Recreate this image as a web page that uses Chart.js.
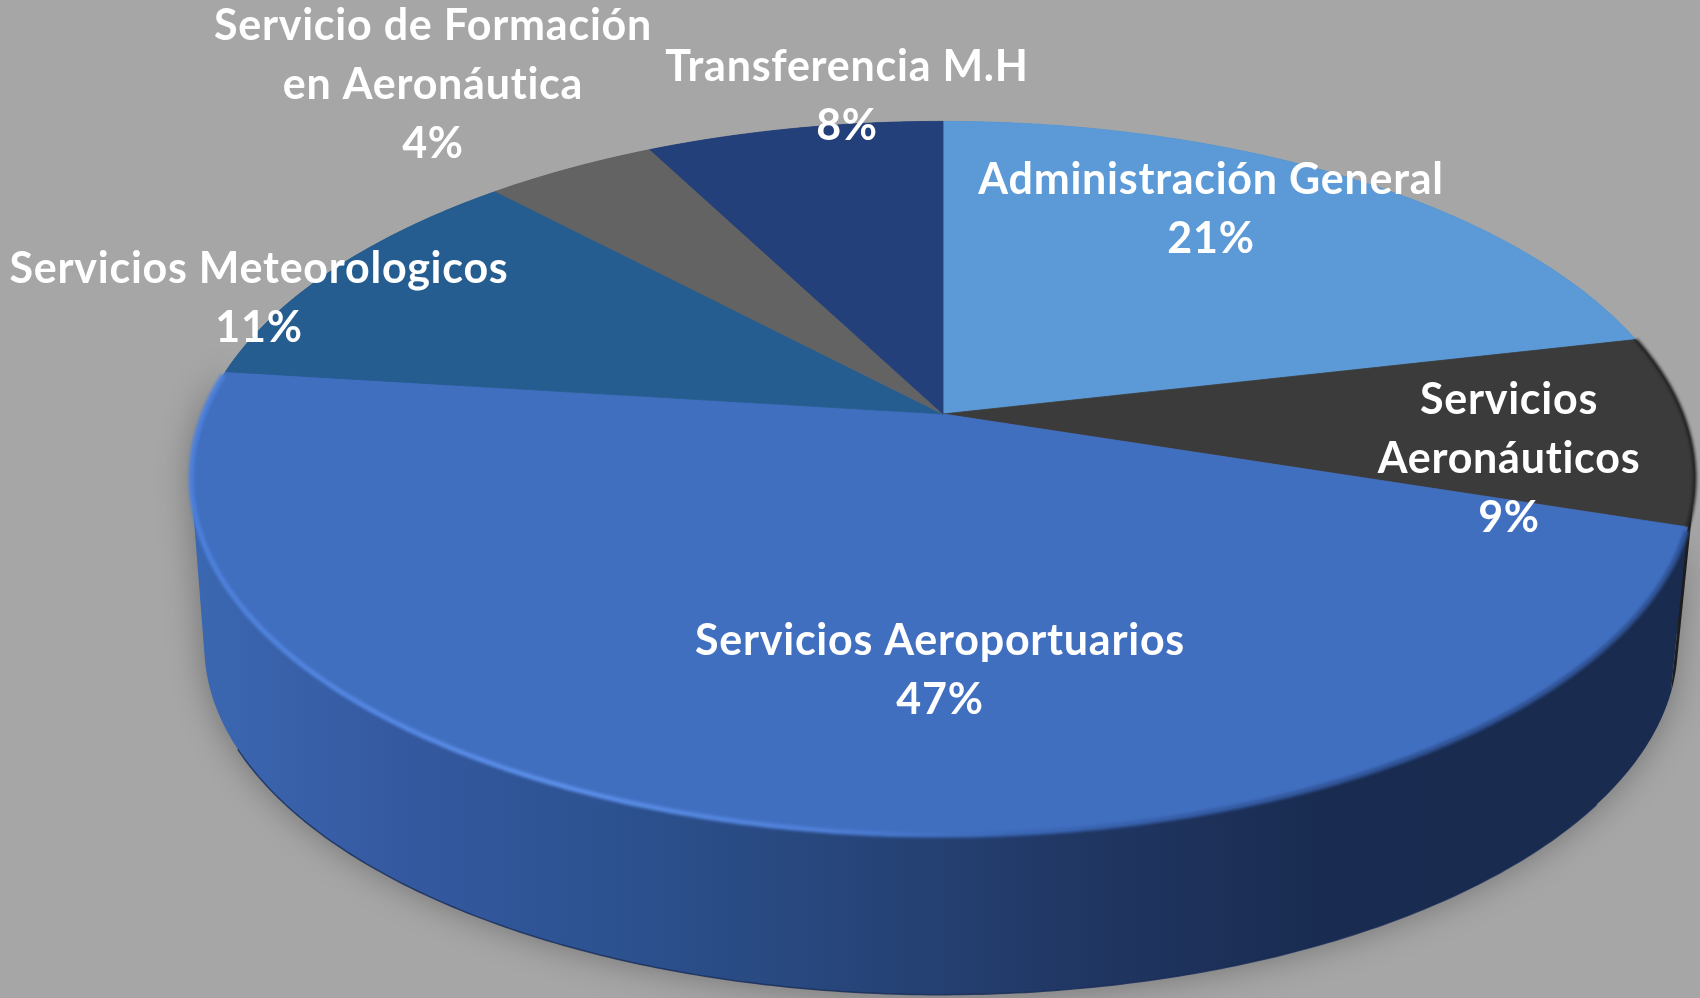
<!DOCTYPE html>
<html lang="es">
<head>
<meta charset="utf-8">
<title>Distribución por servicio</title>
<style>
html,body{margin:0;padding:0;background:#a6a6a6;overflow:hidden}
canvas{display:block}
</style>
<script src="https://cdn.jsdelivr.net/npm/chart.js@4"></script>
</head>
<body>
<canvas id="c" width="1700" height="998"></canvas>
<script>
// ---- data ----
const categories = [
  ["Administración General"],
  ["Servicios", "Aeronáuticos"],
  ["Servicios Aeroportuarios"],
  ["Servicios Meteorologicos"],
  ["Servicio de Formación", "en Aeronáutica"],
  ["Transferencia M.H"]
];
const seriesValues = [21.4, 8.6, 47.0, 11.0, 4.4, 7.6];

// ---- style ----
const faceColors = ["#5b9ad6", "#3b3b3b", "#416fc0", "#255d91", "#636363", "#23407a"];
const wallColors = ["#3f6c96", "#1d1d1d", null, "#1a4166", "#454545", "#182d55"];
const labelCenters = [[1211, 180], [1509, 400], [940, 641], [259, 269], [433, 26], [847, 67]];
const LINE_H = 59;
const FONT = 'bold 43px Lato';

// ---- perspective of the disc, expressed on the library's pie radius ----
const VIEW = {dx: 93, dy: -85, sx: 1.482, sy: 0.692, k: -0.18, depth: 168, baseScale: 0.98, baseDx: -2};

function project(arc, angle, base) {
  const s = base ? VIEW.baseScale : 1;
  const w = 1 + VIEW.k * Math.sin(angle);
  const R = arc.outerRadius;
  return {
    x: arc.x + VIEW.dx + (base ? VIEW.baseDx : 0) + s * R * VIEW.sx * Math.cos(angle) / w,
    y: arc.y + VIEW.dy + (base ? VIEW.depth : 0) + s * R * VIEW.sy * Math.sin(angle) / w
  };
}
function rim(arc, a0, a1, base) {
  const n = Math.max(2, Math.ceil((a1 - a0) / 0.01));
  const pts = [];
  for (let i = 0; i <= n; i++) pts.push(project(arc, a0 + (a1 - a0) * i / n, base));
  return pts;
}
function trace(ctx, pts, close) {
  ctx.beginPath();
  pts.forEach((p, i) => i ? ctx.lineTo(p.x, p.y) : ctx.moveTo(p.x, p.y));
  if (close) ctx.closePath();
}
// the wall is swept from the top rim to the base rim, one thin quad per step
function traceWall(ctx, arc) {
  const t = rim(arc, arc.startAngle, arc.endAngle, false);
  const b = rim(arc, arc.startAngle, arc.endAngle, true);
  ctx.beginPath();
  for (let i = 0; i < t.length - 1; i++) {
    const cross = (t[i + 1].x - t[i].x) * (b[i].y - t[i].y) - (t[i + 1].y - t[i].y) * (b[i].x - t[i].x);
    const q = cross > 0 ? [t[i], t[i + 1], b[i + 1], b[i]] : [t[i], b[i], b[i + 1], t[i + 1]];
    q.forEach((p, j) => j ? ctx.lineTo(p.x, p.y) : ctx.moveTo(p.x, p.y));
    ctx.closePath();
  }
}

const disc3d = {
  id: 'disc3d',
  beforeDatasetDraw(chart, args) {
    const ctx = chart.ctx;
    const arcs = chart.getDatasetMeta(args.index).data;
    const main = arcs[2];

    // soft ground shadow under the wall
    ctx.save();
    ctx.filter = 'blur(17px)';
    ctx.fillStyle = 'rgba(0,0,0,0.32)';
    traceWall(ctx, main);
    ctx.fill();
    ctx.restore();

    // side walls
    const wallGrad = ctx.createLinearGradient(190, 0, 1690, 0);
    wallGrad.addColorStop(0, '#3b68b2');
    wallGrad.addColorStop(0.14, '#3559a0');
    wallGrad.addColorStop(0.28, '#2c5290');
    wallGrad.addColorStop(0.44, '#27457a');
    wallGrad.addColorStop(0.6, '#203662');
    wallGrad.addColorStop(0.76, '#192b50');
    wallGrad.addColorStop(1, '#192b4e');
    arcs.forEach((arc, i) => {
      ctx.fillStyle = wallColors[i] || wallGrad;
      traceWall(ctx, arc);
      ctx.fill();
    });
    // thin dark edge along the front of the base
    ctx.strokeStyle = 'rgba(24,44,88,0.8)';
    ctx.lineWidth = 1.5;
    trace(ctx, rim(main, Math.PI * 0.2, Math.PI * 0.85, true), false);
    ctx.stroke();

    // top faces
    arcs.forEach((arc, i) => {
      const pts = [{x: arc.x + VIEW.dx, y: arc.y + VIEW.dy}]
        .concat(rim(arc, arc.startAngle, arc.endAngle, false));
      ctx.fillStyle = faceColors[i];
      ctx.strokeStyle = faceColors[i];
      ctx.lineWidth = 0.8;
      trace(ctx, pts, true);
      ctx.fill();
      ctx.stroke();
    });

    // bevel highlights
    const glow = ctx.createLinearGradient(190, 0, 1690, 0);
    glow.addColorStop(0, '#4d80da');
    glow.addColorStop(0.25, '#5c8fea');
    glow.addColorStop(0.42, '#4f80d8');
    glow.addColorStop(0.55, '#3a66b4');
    glow.addColorStop(0.8, '#2f5294');
    glow.addColorStop(1, '#2f5294');
    ctx.save();
    ctx.filter = 'blur(1.6px)';
    ctx.strokeStyle = glow;
    ctx.lineWidth = 5;
    trace(ctx, rim(main, main.startAngle + 0.01, main.endAngle - 0.01, false), false);
    ctx.stroke();
    const dark = arcs[1];
    ctx.strokeStyle = '#232323';
    ctx.lineWidth = 3.5;
    trace(ctx, rim(dark, dark.startAngle, dark.endAngle, false), false);
    ctx.stroke();
    ctx.restore();
    return false;
  },
  afterDatasetsDraw(chart) {
    const ctx = chart.ctx;
    const vals = chart.data.datasets[0].data;
    const total = vals.reduce((a, b) => a + b, 0);
    ctx.save();
    ctx.font = FONT;
    ctx.letterSpacing = '0.75px';
    ctx.fillStyle = '#ffffff';
    ctx.textAlign = 'center';
    ctx.textBaseline = 'middle';
    chart.data.labels.forEach((lines, i) => {
      const all = lines.concat([Math.round(vals[i] / total * 100) + '%']);
      all.forEach((t, j) => ctx.fillText(t, labelCenters[i][0], labelCenters[i][1] + j * LINE_H));
    });
    ctx.restore();
  }
};

new Chart(document.getElementById('c'), {
  type: 'pie',
  data: {
    labels: categories,
    datasets: [{data: seriesValues, backgroundColor: faceColors, borderWidth: 0}]
  },
  options: {
    responsive: false,
    animation: false,
    layout: {padding: 0},
    events: [],
    plugins: {legend: {display: false}, tooltip: {enabled: false}, title: {display: false}}
  },
  plugins: [disc3d]
});
</script>
</body>
</html>
